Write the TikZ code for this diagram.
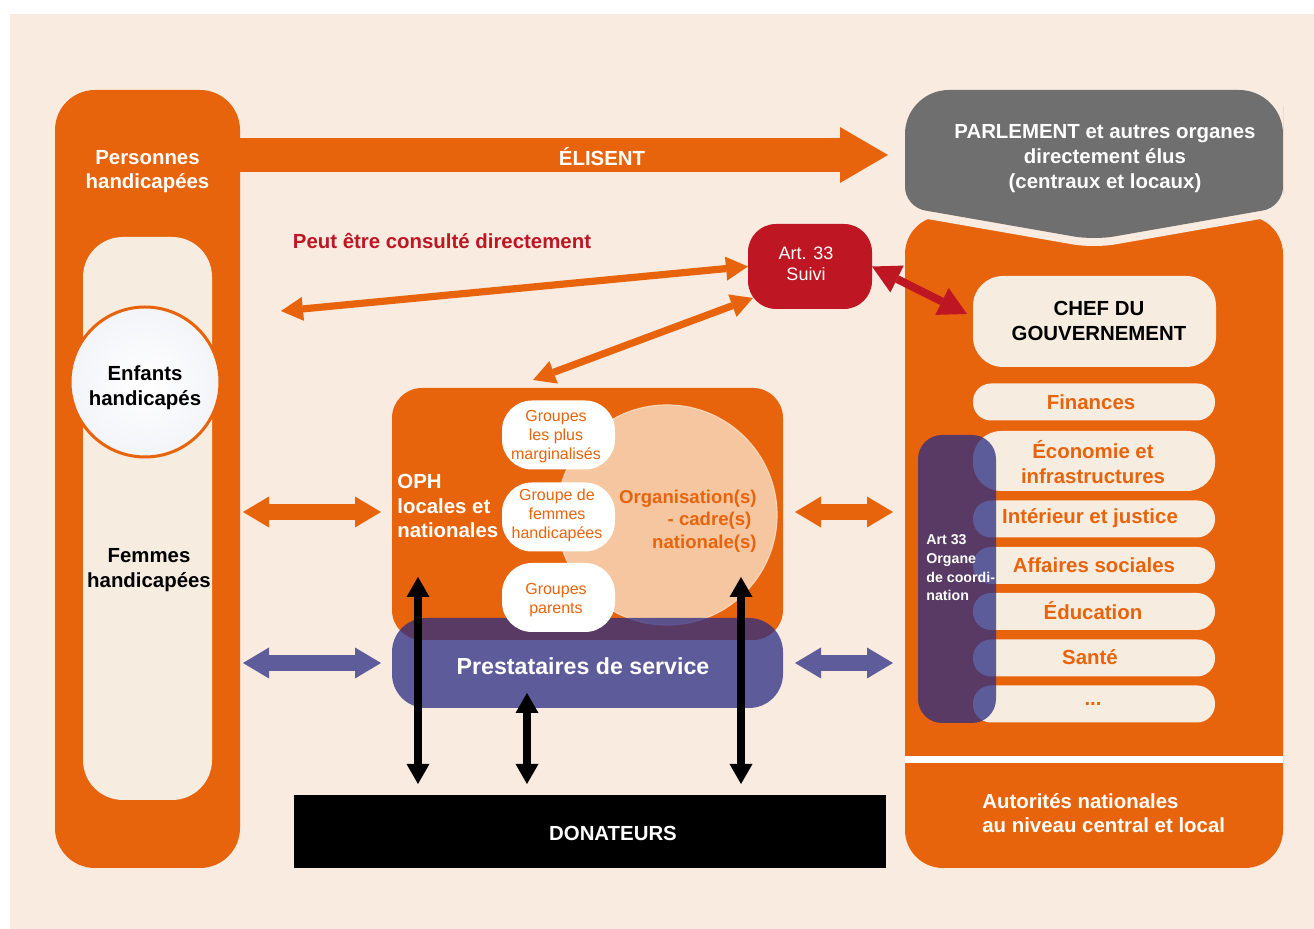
\documentclass[tikz,border=0pt]{standalone}
\usepackage{fontspec}
\setmainfont{Liberation Sans}
\usetikzlibrary{arrows.meta}
\definecolor{bgc}{HTML}{FAEBE1}
\definecolor{orng}{HTML}{E8640C}
\definecolor{crm}{HTML}{F6ECDF}
\definecolor{gry}{HTML}{6F6F6F}
\definecolor{crim}{HTML}{BE1622}
\definecolor{blu}{HTML}{5E5C9B}
\definecolor{navy}{HTML}{2A2C84}
\definecolor{lpeach}{HTML}{F5C6A0}
\definecolor{lpeachb}{HTML}{F9D6BA}
\definecolor{shd}{HTML}{F3F4F8}
\begin{document}
\begin{tikzpicture}[x=0.5pt,y=-0.5pt,
 box/.style={rectangle, inner sep=0pt, outer sep=0pt},
 bf/.style={font=\fontsize{10.2pt}{12.3pt}\selectfont\bfseries, align=center, inner sep=0pt},
 wt/.style={bf, text=white},
 ot/.style={bf, text=orng},
 kt/.style={bf, text=black},
 pill/.style={box, fill=crm, minimum width=121pt, minimum height=18.5pt, rounded corners=9pt},
 spill/.style={box, fill=white, minimum width=56.5pt, minimum height=34.5pt, rounded corners=15pt},
 stxt/.style={inner sep=0pt, text=orng, font=\fontsize{8pt}{9.5pt}\selectfont, align=center},
 oarr/.style={draw=orng, line width=3.6pt, >={Triangle[length=11pt,width=12pt,line width=0pt]}, <->},
 rarr/.style={draw=crim, line width=4pt, >={Triangle[length=14pt,width=15pt,line width=0pt]}, <->},
 barr/.style={line width=8pt, >={Triangle[length=13pt,width=15.5pt,line width=0pt]}, <->},
 karr/.style={draw=black, line width=4pt, >={Triangle[length=10pt,width=11.5pt,line width=0pt]}, <->}
]
\useasboundingbox (0,0) rectangle (1314,929);
\fill[white] (0,0) rectangle (1314,929);
\fill[bgc] (10,14) rectangle (1314,929);

% left column
\node[box, fill=orng, rounded corners=20pt, minimum width=92.5pt, minimum height=389pt] (pers) at (147.5,479) {};
\node[wt] (persl) at (147.5,171.5) {Personnes\\handicapées};
\node[box, fill=crm, rounded corners=20pt, minimum width=64.5pt, minimum height=281.5pt] (inner) at (147.5,518.5) {};
\node[circle, draw=orng, line width=1.5pt, inner color=white, outer color=shd, minimum size=75pt, inner sep=0pt] (enf) at (145,382) {};
\node[kt] (enfl) at (145,388) {Enfants\\handicapés};
\node[kt] (fem) at (149,570) {Femmes\\handicapées};

% right column
\node[box, fill=orng, rounded corners=19pt, minimum width=189pt, minimum height=326pt] (auth) at (1094,542) {};
\draw[bgc, line width=8pt] (905,150) [rounded corners=22pt] -- (905,90) -- (1283,90) -- (1283,150) [rounded corners=10pt] -- (1283,207) -- (1094,240) -- (905,207) -- (905,150) -- cycle;
\fill[gry] (905,150) [rounded corners=22pt] -- (905,90) -- (1283,90) -- (1283,150) [rounded corners=10pt] -- (1283,207) -- (1094,240) -- (905,207) -- (905,150) -- cycle;
\node[wt, font=\fontsize{10.2pt}{12.5pt}\selectfont\bfseries] (parl) at (1105,159) {PARLEMENT et autres organes\\directement élus\\(centraux et locaux)};

\fill[white] (905,756) rectangle (1283,763);
\node[wt, align=left, anchor=west] (authl) at (982,813) {Autorités nationales\\au niveau central et local};

\node[box, fill=crm, rounded corners=15pt, minimum width=121.5pt, minimum height=45.5pt] (chef) at (1094.5,321.5) {};
\node[kt, font=\fontsize{10.2pt}{12.5pt}\selectfont\bfseries] (chefl) at (1099,321) {CHEF DU\\GOUVERNEMENT};

\node[pill] (fin) at (1094,402) {};
\node[pill, minimum height=30pt, rounded corners=14pt] (eco) at (1094,461) {};
\node[pill] (int) at (1094,519) {};
\node[pill] (aff) at (1094,565.5) {};
\node[pill] (edu) at (1094,611.5) {};
\node[pill] (san) at (1094,658) {};
\node[pill] (etc) at (1094,704) {};
\node[ot] at (1091,402) {Finances};
\node[ot] at (1093,462) {Économie et\\infrastructures};
\node[ot] at (1090,518) {Intérieur et justice};
\node[ot] at (1094,565) {Affaires sociales};
\node[ot] at (1093,611) {Éducation};
\node[ot] at (1090,657) {Santé};
\node[ot] at (1093,704) {...};

\node[box, fill=navy, fill opacity=0.75, rounded corners=12pt, minimum width=39pt, minimum height=144pt] (coord) at (957,579) {};
\node[wt, align=left, anchor=west, font=\fontsize{7.1pt}{9.35pt}\selectfont\bfseries] (coordl) at (926,568) {Art 33\\Organe\\de coordi-\\nation};

% ELISENT arrow
\coordinate (elE) at (888,155);
\draw[draw=orng, line width=17pt, -{Triangle[length=24pt,width=28pt,line width=0pt]}] (pers.east |- elE) -- (elE);
\node[wt] (elis) at (602,157) {ÉLISENT};

% OPH block
\node[box, fill=orng, rounded corners=15pt, minimum width=195.5pt, minimum height=126pt] (oph) at (587.5,514) {};
\node[circle, fill=lpeach, draw=lpeachb, line width=0.6pt, minimum size=110pt, inner sep=0pt] (org) at (667,515) {};
\node[box, fill=navy, fill opacity=0.75, rounded corners=17pt, minimum width=195.5pt, minimum height=45pt] (prest) at (587.5,663) {};
\node[wt, font=\fontsize{11.6pt}{13pt}\selectfont\bfseries] (prestl) at (583,666) {Prestataires de service};

\node[spill] (g1) at (558.5,435) {};
\node[spill] (g2) at (558.5,517) {};
\node[spill] (g3) at (558.5,597.5) {};
\node[stxt] (g1l) at (556,437) {Groupes\\les plus\\marginalisés};
\node[stxt] (g2l) at (557,515) {Groupe de\\femmes\\handicapées};
\node[stxt] (g3l) at (556,600) {Groupes\\parents};

\node[wt, align=left, anchor=west] (ophl) at (397,506) {OPH\\locales et\\nationales};
\node[ot, align=right, anchor=east, font=\fontsize{9.3pt}{11.25pt}\selectfont\bfseries] (orgl) at (757,521) {Organisation(s)\\- cadre(s)\kern2.6pt\\nationale(s)};

% Art 33 suivi
\node[box, fill=crim, rounded corners=14pt, minimum width=62pt, minimum height=42.5pt] (suivi) at (810,266.5) {};
\node[inner sep=0pt, text=white, font=\fontsize{9pt}{10.5pt}\selectfont, align=center] (suivil) at (806,263.5) {Art. 33\\Suivi};
\node[bf, text=crim] (peut) at (442,241) {Peut être consulté directement};

\coordinate (cL) at (281,311);
\coordinate (d1) at (533,380);
\coordinate (d2) at (753,298);
\coordinate (cr2) at (967,314);
\draw[oarr] (cL) -- (suivi.west);
\draw[oarr] (d1) -- (d2);
\draw[rarr] (suivi.east) -- (cr2);

% block arrows
\coordinate (bL1) at (243,512); \coordinate (bL2) at (381,512);
\coordinate (bR1) at (795,512); \coordinate (bR2) at (893,512);
\coordinate (pL1) at (243,663); \coordinate (pL2) at (381,663);
\coordinate (pR1) at (795,663); \coordinate (pR2) at (893,663);
\draw[barr, draw=orng] (bL1) -- (bL2);
\draw[barr, draw=orng] (bR1) -- (bR2);
\draw[barr, draw=blu] (pL1) -- (pL2);
\draw[barr, draw=blu] (pR1) -- (pR2);

% donateurs
\node[box, fill=black, minimum width=296pt, minimum height=36.5pt] (don) at (590,831.5) {};
\node[wt] (donl) at (613,833) {DONATEURS};
\coordinate (k1t) at (418,577); \coordinate (k1b) at (418,784);
\coordinate (k2t) at (527,693); \coordinate (k2b) at (527,784);
\coordinate (k3t) at (741,577); \coordinate (k3b) at (741,784);
\draw[karr] (k1t) -- (k1b);
\draw[karr] (k2t) -- (k2b);
\draw[karr] (k3t) -- (k3b);
\end{tikzpicture}
\end{document}
